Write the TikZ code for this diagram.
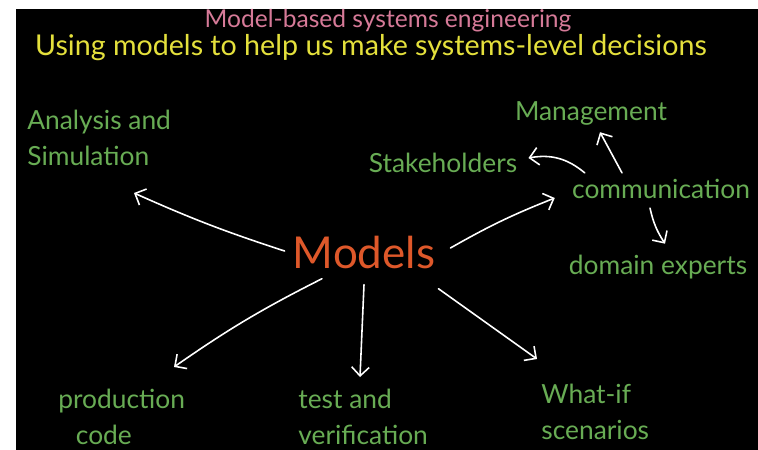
\documentclass[tikz,border=0pt]{standalone}
\usepackage{fontspec}
\setmainfont{Lato}
\usetikzlibrary{arrows.meta}

\definecolor{chalkpink}{RGB}{214,122,152}
\definecolor{chalkyellow}{RGB}{228,224,60}
\definecolor{chalkgreen}{RGB}{104,172,84}
\definecolor{chalkorange}{RGB}{222,88,42}

\begin{document}
\begin{tikzpicture}[x=0.02cm, y=-0.02cm,
        heading/.style={inner sep=0pt, text=chalkpink, font=\fontsize{14}{16}\selectfont},
        subheading/.style={inner sep=0pt, text=chalkyellow, font=\fontsize{16.3}{19}\selectfont},
        hub/.style={inner sep=0pt, text=chalkorange, font=\fontsize{25}{30}\selectfont},
        topic/.style={inner sep=0pt, text=chalkgreen, align=left, font=\fontsize{15}{20.5}\selectfont},
        arrow_line/.style={-{Straight Barb[length=5pt, width=10pt]}, white, line width=0.9pt, line cap=round}
    ]

        % board
        \useasboundingbox (0,0) rectangle (758,450);
        \fill[white] (0,0) rectangle (758,450);
        \fill[black] (16,9) rectangle (758,450);

        % Labels
        \node[heading] (title) at (388,21) {Model-based systems engineering};
        \node[subheading] (subtitle) at (371,48) {Using models to help us make systems-level decisions};

        \node[hub] (models) at (364,252) {Models};

        \node[topic, anchor=north west] (analysis) at (27,110) {Analysis and\\Simulation};
        \node[topic] (stake) at (443,163) {Stakeholders};
        \node[topic] (mgmt) at (591,113) {Management};
        \node[topic] (comm) at (661,189) {communication};
        \node[topic] (domain) at (658,267) {domain experts};
        \node[topic, anchor=north west] (prod) at (58,389) {production\\\hspace*{10pt}code};
        \node[topic, anchor=north west] (test) at (298,389) {test and\\verification};
        \node[topic, anchor=north west] (whatif) at (541,384) {What-if\\scenarios};

        % Models to its uses
        \draw[arrow_line] ([shift={(-8,-1)}]models.west) to[bend left=3] ([shift={(107,83)}]analysis.north west);
        \draw[arrow_line] ([shift={(15,-4)}]models.east) to[bend left=4] ([shift={(-17,9)}]comm.west);
        \draw[arrow_line] ([shift={(-42,10)}]models.south) to[bend right=4] ([shift={(116,-22)}]prod.north west);
        \draw[arrow_line] ([shift={(0,16)}]models.south) -- ([shift={(62,-12)}]test.north west);
        \draw[arrow_line] ([shift={(3,20)}]models.south east) -- ([shift={(-4,-25)}]whatif.north west);

        % communication fans out
        \draw[arrow_line] ([shift={(13,-6)}]comm.north west) to[bend right=25] ([shift={(11,-5)}]stake.east);
        \draw[arrow_line] ([shift={(-39,-6)}]comm.north) -- ([shift={(9,7)}]mgmt.south);
        \draw[arrow_line] ([shift={(-11,9)}]comm.south) to[bend right=10] ([shift={(7,-11)}]domain.north);

    \end{tikzpicture}
\end{document}
